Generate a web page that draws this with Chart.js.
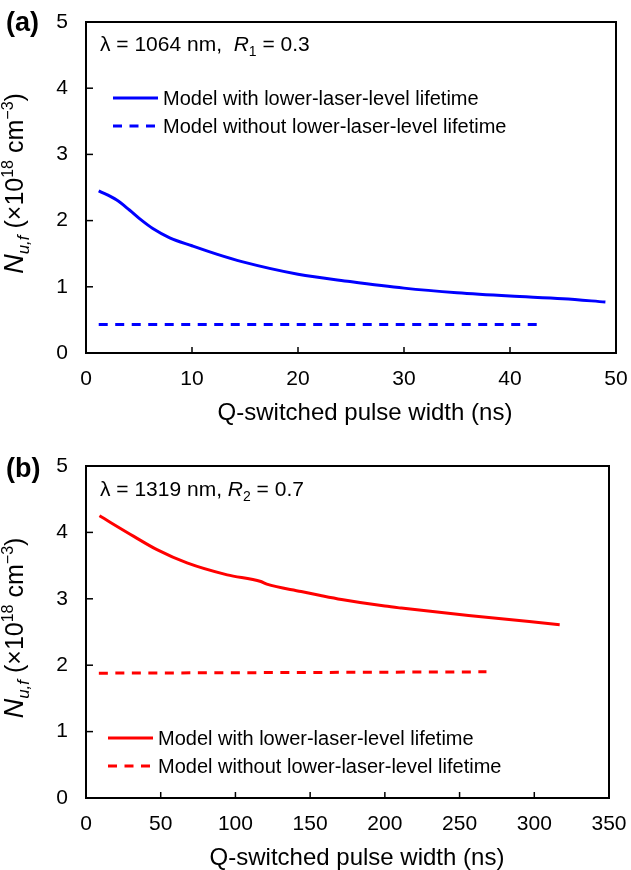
<!DOCTYPE html>
<html>
<head>
<meta charset="utf-8">
<script src="https://cdn.jsdelivr.net/npm/chart.js@4/dist/chart.umd.min.js"></script>
<style>
  html, body { margin: 0; padding: 0; background: #fff; }
  #wrap { position: relative; width: 631px; height: 870px; }
  canvas { position: absolute; left: 0; }
</style>
</head>
<body>
<div id="wrap">
  <canvas id="chartA" width="631" height="435" style="top:0"></canvas>
  <canvas id="chartB" width="631" height="435" style="top:435px"></canvas>
</div>
<script>
const FONT = '"Liberation Sans", Arial, Helvetica, sans-serif';

// (a) lambda = 1064 nm, R1 = 0.3
const pulseA = [1.2, 2.9, 4.1, 5.2, 6.3, 7.9, 10, 12.4, 14.7, 20, 24.9, 30, 35, 40, 45, 49];
const withLowerA = [2.45, 2.31, 2.16, 2.01, 1.88, 1.74, 1.62, 1.49, 1.38, 1.19, 1.08, 0.98, 0.91, 0.86, 0.82, 0.77];
const pulseNoLowerA = [1.2, 43.2];
const withoutLowerA = [0.43, 0.43];

// (b) lambda = 1319 nm, R2 = 0.7
const pulseB = [9, 32, 47.5, 67.6, 94.5, 117, 121, 144, 157, 171, 200, 211, 256, 317];
const withLowerB = [4.25, 3.94, 3.74, 3.54, 3.36, 3.26, 3.22, 3.11, 3.05, 2.99, 2.89, 2.86, 2.75, 2.61];
const pulseNoLowerB = [8.6, 268];
const withoutLowerB = [1.88, 1.90];

const yTicks = [0, 1, 2, 3, 4, 5];
const xTicksA = [0, 10, 20, 30, 40, 50];
const xTicksB = [0, 50, 100, 150, 200, 250, 300, 350];
const seriesNames = ['Model with lower-laser-level lifetime', 'Model without lower-laser-level lifetime'];
const xTitle = 'Q-switched pulse width (ns)';

const toPoints = (xs, ys) => xs.map((x, i) => ({ x: x, y: ys[i] }));

// draws a run of text pieces with their own size / style / vertical shift
function drawRich(ctx, parts, x, y, align) {
  let total = 0;
  parts.forEach(p => {
    ctx.font = (p.style || '') + ' ' + p.size + 'px ' + FONT;
    p.w = ctx.measureText(p.t).width;
    total += p.w;
  });
  let cx = align === 'center' ? x - total / 2 : x;
  parts.forEach(p => {
    ctx.font = (p.style || '') + ' ' + p.size + 'px ' + FONT;
    ctx.fillText(p.t, cx, y + (p.dy || 0));
    cx += p.w;
  });
}

const yTitleParts = [
  { t: 'N', size: 27, style: 'italic' },
  { t: 'u,f', size: 17, style: 'italic', dy: 6 },
  { t: ' (\u00d710', size: 25 },
  { t: '18', size: 16, dy: -10 },
  { t: ' cm', size: 25 },
  { t: '\u22123', size: 16, dy: -10 },
  { t: ')', size: 25 }
];

// frame, inward ticks, panel letter, annotation, legend, axis titles
const decorations = {
  id: 'decorations',
  afterDatasetsDraw(chart, args, opts) {
    const { ctx, chartArea: a, scales } = chart;
    ctx.save();
    ctx.strokeStyle = '#000';
    ctx.fillStyle = '#000';
    ctx.lineWidth = 1.5;
    scales.x.ticks.forEach(t => {
      const px = scales.x.getPixelForValue(t.value);
      ctx.beginPath(); ctx.moveTo(px, a.bottom); ctx.lineTo(px, a.bottom - 6); ctx.stroke();
    });
    scales.y.ticks.forEach(t => {
      const py = scales.y.getPixelForValue(t.value);
      ctx.beginPath(); ctx.moveTo(a.left, py); ctx.lineTo(a.left + 7, py); ctx.stroke();
    });
    ctx.lineWidth = 2;
    ctx.strokeRect(a.left, a.top, a.right - a.left, a.bottom - a.top);

    ctx.textBaseline = 'alphabetic';
    ctx.textAlign = 'left';
    ctx.font = 'bold 27px ' + FONT;
    ctx.fillText(opts.letter, 6, opts.letterY);

    drawRich(ctx, opts.note, 100, opts.noteY, 'left');

    // legend built from the dataset styles
    chart.data.datasets.forEach((ds, i) => {
      const ly = opts.legendY + i * 28;
      ctx.save();
      ctx.strokeStyle = ds.borderColor;
      ctx.lineWidth = ds.borderWidth;
      ctx.setLineDash(ds.borderDash || []);
      ctx.beginPath(); ctx.moveTo(opts.legendX, ly); ctx.lineTo(opts.legendX + 45, ly); ctx.stroke();
      ctx.restore();
      ctx.font = '20px ' + FONT;
      ctx.textBaseline = 'middle';
      ctx.fillText(ds.label, opts.legendX + 50, ly + 1);
    });

    ctx.textAlign = 'center';
    ctx.textBaseline = 'middle';
    ctx.font = '24px ' + FONT;
    ctx.fillText(xTitle, opts.xTitleX, opts.xTitleY);

    ctx.textAlign = 'left';
    ctx.textBaseline = 'alphabetic';
    ctx.translate(23, (a.top + a.bottom) / 2 - 4);
    ctx.rotate(-Math.PI / 2);
    drawRich(ctx, yTitleParts, 0, 0, 'center');
    ctx.restore();
  }
};

function makePanel(id, cfg) {
  const color = cfg.color;
  return new Chart(document.getElementById(id), {
    type: 'line',
    data: {
      datasets: [
        {
          label: seriesNames[0],
          data: toPoints(cfg.pulse, cfg.withLower),
          borderColor: color, borderWidth: 3,
          pointRadius: 0, cubicInterpolationMode: 'monotone'
        },
        {
          label: seriesNames[1],
          data: toPoints(cfg.pulseNoLower, cfg.withoutLower),
          borderColor: color, borderWidth: 3, borderDash: [9, 7.5],
          pointRadius: 0
        }
      ]
    },
    options: {
      responsive: false,
      animation: false,
      layout: { padding: { top: cfg.top, right: cfg.right, left: 0, bottom: 0 } },
      plugins: {
        legend: { display: false },
        tooltip: { enabled: false },
        decorations: cfg.deco
      },
      scales: {
        x: {
          type: 'linear',
          min: 0, max: cfg.xTicks[cfg.xTicks.length - 1],
          afterBuildTicks: s => { s.ticks = cfg.xTicks.map(v => ({ value: v })); },
          afterFit: s => {
            s.height = cfg.xHeight;
            s.paddingLeft = 0; s.paddingRight = 0;
          },
          grid: { display: false, drawTicks: false },
          border: { display: false },
          ticks: { color: '#000', font: { size: 21, family: FONT }, padding: 14, maxRotation: 0 }
        },
        y: {
          min: 0, max: 5,
          afterBuildTicks: s => { s.ticks = yTicks.map(v => ({ value: v })); },
          afterFit: s => {
            s.width = 86;
            s.paddingTop = 0; s.paddingBottom = 0;
          },
          grid: { display: false, drawTicks: false },
          border: { display: false },
          ticks: { color: '#000', font: { size: 21, family: FONT }, padding: 18 }
        }
      }
    },
    plugins: [decorations]
  });
}

makePanel('chartA', {
  color: '#0000ff',
  pulse: pulseA, withLower: withLowerA,
  pulseNoLower: pulseNoLowerA, withoutLower: withoutLowerA,
  xTicks: xTicksA,
  top: 22, right: 15, xHeight: 82,
  deco: {
    letter: '(a)', letterY: 31,
    note: [
      { t: '\u03bb = 1064 nm,  ', size: 21 },
      { t: 'R', size: 21, style: 'italic' },
      { t: '1', size: 14, dy: 5 },
      { t: ' = 0.3', size: 21 }
    ],
    noteY: 51,
    legendX: 113, legendY: 98,
    xTitleX: 365, xTitleY: 413
  }
});

makePanel('chartB', {
  color: '#ff0000',
  pulse: pulseB, withLower: withLowerB,
  pulseNoLower: pulseNoLowerB, withoutLower: withoutLowerB,
  xTicks: xTicksB,
  top: 31, right: 22, xHeight: 72,
  deco: {
    letter: '(b)', letterY: 42,
    note: [
      { t: '\u03bb = 1319 nm, ', size: 21 },
      { t: 'R', size: 21, style: 'italic' },
      { t: '2', size: 14, dy: 5 },
      { t: ' = 0.7', size: 21 }
    ],
    noteY: 61,
    legendX: 108, legendY: 303,
    xTitleX: 357, xTitleY: 423
  }
});
</script>
</body>
</html>
